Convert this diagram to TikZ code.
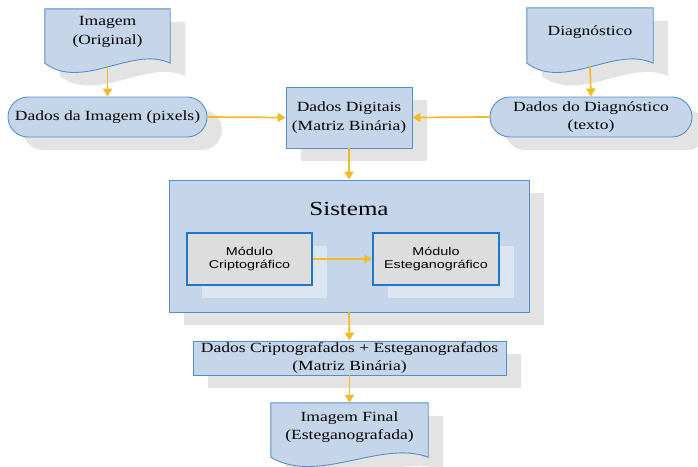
\documentclass[tikz,border=0pt]{standalone}
\usepackage{fontspec}
\setmainfont{Liberation Serif}[FakeStretch=1.25]
\setsansfont{Liberation Sans}[FakeStretch=1.27]
\usetikzlibrary{arrows.meta,shadows}
\pgfdeclarelayer{back}
\pgfsetlayers{back,main}
\definecolor{boxfill}{RGB}{197,214,234}
\definecolor{boxline}{RGB}{88,142,200}
\definecolor{modline}{RGB}{30,118,205}
\definecolor{modfill}{RGB}{221,221,221}
\definecolor{modshade}{RGB}{219,230,242}
\definecolor{shadowgray}{RGB}{227,227,227}
\definecolor{flow}{RGB}{244,186,36}
\begin{document}
\begin{tikzpicture}[x=1pt,y=-1pt,
  shade/.style={drop shadow={shadow xshift=15pt,shadow yshift=-13pt,fill=shadowgray,opacity=1}},
  txt/.style={font=\fontsize{14}{18.5}\selectfont,align=center},
  block/.style={txt,draw=boxline,fill=boxfill,line width=0.9pt,shade,inner sep=0pt},
  pill/.style={block,rounded corners=20pt,minimum height=40pt},
  doclabel/.style={txt,inner sep=0pt},
  docshape/.style={draw=boxline,fill=boxfill,line width=0.9pt,shade},
  module/.style={font=\sffamily\fontsize{11.3}{13.5}\selectfont,align=center,
    draw=modline,fill=modfill,line width=1.5pt,inner sep=0pt,
    minimum height=52pt,
    drop shadow={shadow xshift=15pt,shadow yshift=-13pt,fill=modshade,opacity=1}},
  flowarrow/.style={draw=flow,line width=1.7pt,-{Triangle[length=8pt,width=9pt]}},
  thinarrow/.style={draw=flow,line width=1.2pt,-{Triangle[length=8pt,width=8pt]}}]
\useasboundingbox (0,0) rectangle (698,466);

% document-shaped inputs and output (text nodes; outlines drawn behind)
\node[doclabel,minimum width=125pt,minimum height=46pt] (img) at (107.5,32) {Imagem\\(Original)};
\node[doclabel,minimum width=126pt,minimum height=48pt] (diag) at (590,32) {Diagnóstico};
\node[doclabel,minimum width=157pt,minimum height=48pt] (fin) at (349.5,427) {Imagem Final\\(Esteganografada)};

\begin{pgfonlayer}{back}
  \path[docshape] (img.north west) -- (img.north east) -- ([yshift=-8pt]img.south east)
    .. controls +(-37,-18) and +(37,28) .. ([yshift=-8pt]img.south west) -- cycle;
  \path[docshape] (diag.north west) -- (diag.north east) -- ([yshift=-7pt]diag.south east)
    .. controls +(-38,-18) and +(38,28) .. ([yshift=-7pt]diag.south west) -- cycle;
  \path[docshape] (fin.north west) -- (fin.north east) -- ([yshift=-6pt]fin.south east)
    .. controls +(-47,-18) and +(47,28) .. ([yshift=-6pt]fin.south west) -- cycle;
\end{pgfonlayer}

% data nodes
\node[pill,minimum width=199pt] (pimg) at (107.5,117) {Dados da Imagem (pixels)};
\node[pill,minimum width=202pt] (pdiag) at (591,117) {Dados do Diagnóstico\\(texto)};
\node[block,minimum width=126pt,minimum height=61pt] (dd) at (349,117.5) {Dados Digitais\\(Matriz Binária)};

% system with its two modules
\node[block,minimum width=360pt,minimum height=132pt] (sis) at (349,246) {};
\node[font=\fontsize{20}{24}\selectfont] (sistitle) at (349,209) {Sistema};
\node[module,minimum width=125pt] (cripto) at (249.5,259) {Módulo\\Criptográfico};
\node[module,minimum width=126pt] (esteg) at (436,259) {Módulo\\Esteganográfico};

\node[block,minimum width=313pt,minimum height=34pt] (dcr) at (349.5,358) {Dados Criptografados + Esteganografados\\(Matriz Binária)};

% connectors
\draw[flowarrow] ([yshift=-11pt]img.south) -- (pimg.north);
\draw[flowarrow] ([yshift=-10pt]diag.south) -- (pdiag.north);
\draw[flowarrow] (pimg.east) -- (dd.west);
\draw[flowarrow] (pdiag.west) -- (dd.east);
\draw[flowarrow] (dd.south) -- (sis.north);
\draw[thinarrow] (cripto.east) -- (esteg.west);
\draw[flowarrow] (sis.south) -- (dcr.north);
\draw[flowarrow] (dcr.south) -- (fin.north);
\end{tikzpicture}
\end{document}
